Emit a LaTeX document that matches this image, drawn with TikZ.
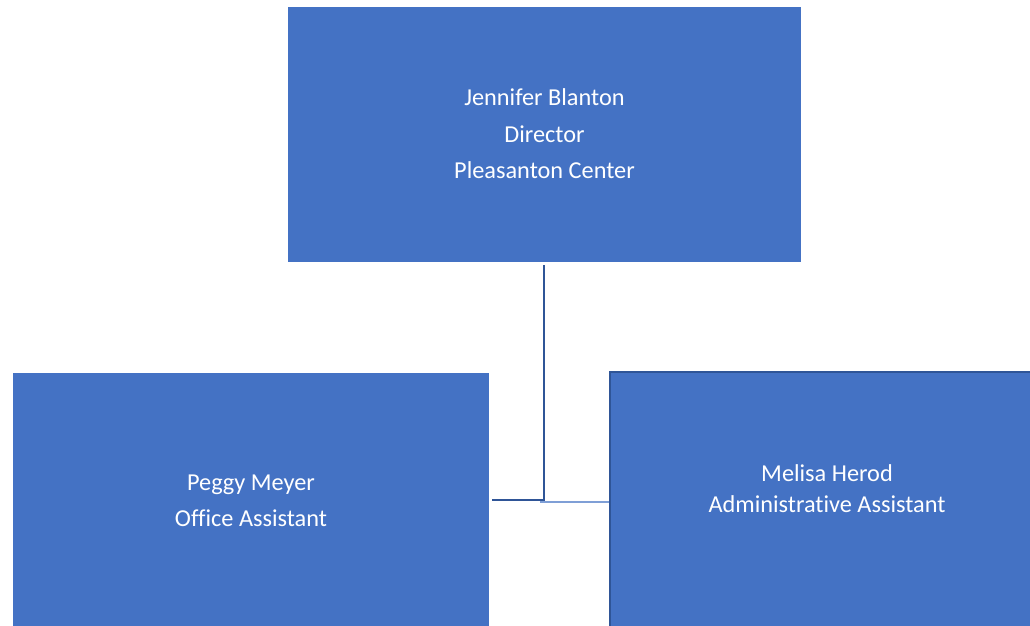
\documentclass[tikz,border=0pt]{standalone}
\usepackage{fontspec}
\setmainfont{Carlito}[RawFeature={-liga}]
\definecolor{boxblue}{HTML}{4472C4}
\definecolor{linedark}{HTML}{2F5597}
\definecolor{linelight}{HTML}{7F9FD6}
\begin{document}
\begin{tikzpicture}[x=1pt,y=-1pt,
  orgbox/.style={fill=boxblue, draw=none, inner sep=0pt},
  boxtext/.style={text=white, align=center, inner sep=0pt},
  conn/.style={draw=linedark, line width=2.2pt},
  connlight/.style={draw=linelight, line width=1.6pt}]
\useasboundingbox (0,0) rectangle (1030,626);
\fill[white] (0,0) rectangle (1030,626);
% boxes
\node[orgbox, minimum width=513pt, minimum height=255pt] (top) at (544.5,134.5) {};
\node[boxtext, font=\fontsize{24.3}{36.5}\selectfont] (toptext) at (544.5,134) {Jennifer Blanton\\Director\\Pleasanton Center};
\node[orgbox, minimum width=476pt, minimum height=253pt] (left) at (251,499.5) {};
\node[boxtext, font=\fontsize{24.3}{36}\selectfont] (lefttext) at (251,500.5) {Peggy Meyer\\Office Assistant};
\node[orgbox, minimum width=421pt, minimum height=255pt] (right) at (819.5,498.5) {};
\node[boxtext, font=\fontsize{24.3}{31}\selectfont] (righttext) at (827,489) {Melisa Herod\\Administrative Assistant};
% right box dark edges
\draw[linedark, line width=2pt] (right.south west) ++(1,0) -- ++(0,-254) -- ++(421,0);
% connectors
\coordinate (topdrop) at (544,265);
\coordinate (junc) at (544,500);
\coordinate (leftend) at (492,500);
\coordinate (rightstart) at (540,502);
\coordinate (rightend) at (609,502);
\draw[connlight] (rightstart) -- (rightend);
\draw[conn] (topdrop) -- (junc) -- (leftend);
\end{tikzpicture}
\end{document}
